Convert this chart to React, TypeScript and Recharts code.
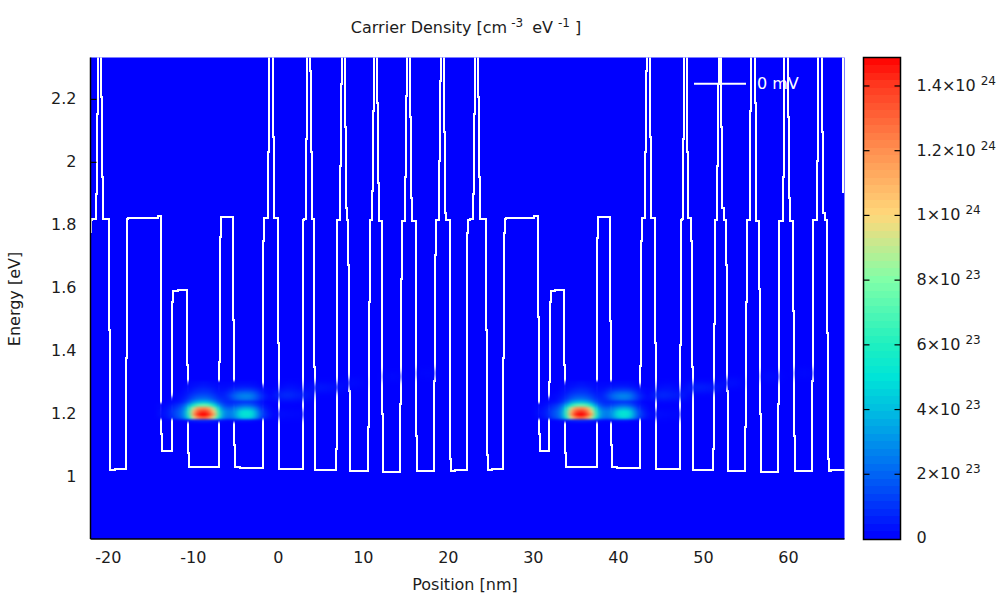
import React from 'react';
import { ComposedChart, XAxis, YAxis, Line, Scatter, CartesianGrid, Bar } from 'recharts';

const FONT = '"DejaVu Sans", Verdana, sans-serif';
const TEXT = '#1c1c1c';

// conduction/valence band edge: [position nm, energy eV], drawn as steps
const bandLevels: number[][] = [
  [-22.0,1.777],[-22.0,1.818],[-21.88,1.821],[-21.48,1.898],[-21.36,2.152],[-21.25,2.6],[-20.89,2.206],[-20.78,1.952],[-20.66,1.82],
  [-19.92,1.468],[-19.8,1.024],[-19.18,1.027],[-17.95,1.378],[-17.84,1.82],[-17.65,1.824],[-14.19,1.829],[-13.8,1.137],[-13.68,1.083],
  [-12.51,1.556],[-12.39,1.592],[-11.84,1.596],[-10.78,1.356],[-10.66,1.076],[-10.51,1.033],[-6.94,1.365],[-6.86,1.763],[-6.74,1.827],
  [-5.33,1.498],[-5.21,1.102],[-5.09,1.034],[-4.54,1.03],[-1.8,1.749],[-1.68,1.824],[-1.21,2.032],[-1.09,2.6],[-0.62,2.079],[-0.51,1.824],
  [-0.04,1.425],[0.08,1.027],[2.91,1.817],[3.02,1.821],[3.22,2.073],[3.34,2.6],[3.73,2.289],[3.85,2.032],[3.96,1.821],[4.24,1.349],[4.35,1.024],
  [6.75,1.089],[6.87,1.816],[7.26,1.99],[7.38,2.248],[7.49,2.6],[7.85,2.111],[7.96,1.854],[8.08,1.818],[8.2,1.673],[8.32,1.273],[8.44,1.02],
  [10.55,1.159],[10.67,1.556],[10.79,1.816],[11.02,1.908],[11.14,2.162],[11.26,2.6],[11.61,2.19],[11.73,1.933],[11.85,1.814],[12.2,1.2],[12.32,1.017],
  [14.32,1.232],[14.44,1.629],[14.55,1.815],[14.91,1.954],[15.02,2.21],[15.14,2.6],[15.49,2.143],[15.61,1.886],[15.73,1.815],[16.2,1.13],[16.32,1.02],
  [18.32,1.305],[18.44,1.705],[18.55,1.817],[18.91,2.003],[19.02,2.257],[19.14,2.6],[19.49,2.098],[19.61,1.84],[19.73,1.817],[20.2,1.057],[20.32,1.02],[20.79,1.024],
  [22.2,1.777],[22.32,1.817],[22.55,1.82],[22.91,1.898],[23.02,2.152],[23.14,2.6],[23.49,2.206],[23.61,1.952],[23.73,1.82],
  [24.44,1.467],[24.55,1.07],[24.67,1.023],[25.18,1.027],[26.44,1.378],[26.55,1.775],[26.67,1.82],[26.82,1.824],[30.08,1.829],[30.55,1.508],[30.67,1.137],[30.79,1.083],
  [31.85,1.302],[31.96,1.556],[32.08,1.592],[32.59,1.596],[33.61,1.356],[33.73,1.076],[33.85,1.033],[37.49,1.761],[37.61,1.827],
  [39.02,1.497],[39.14,1.102],[39.26,1.033],[39.88,1.03],[42.59,1.352],[42.67,1.749],[42.79,1.824],[43.14,2.032],[43.26,2.289],[43.38,2.6],[43.73,2.079],[43.85,1.824],
  [44.32,1.425],[44.44,1.026],[47.29,1.419],[47.38,1.816],[47.49,1.819],[47.61,2.073],[47.73,2.6],[48.08,2.032],[48.2,1.822],[48.55,1.749],[48.67,1.349],[48.79,1.023],
  [51.11,1.089],[51.22,1.486],[51.38,1.816],[51.61,1.99],[51.73,2.249],[51.85,2.6],[52.12,2.111],[52.24,1.854],[52.4,1.817],[52.64,1.673],[52.75,1.273],[52.87,1.02],
  [54.94,1.159],[55.06,1.556],[55.18,1.816],[55.49,2.162],[55.61,2.6],[56.08,2.19],[56.2,1.814],[56.55,1.597],[56.67,1.2],[56.79,1.017],
  [58.79,1.232],[58.91,1.815],[59.38,1.954],[59.49,2.6],[59.96,2.143],[60.08,1.886],[60.2,1.815],[60.55,1.527],[60.67,1.13],[60.79,1.02],
  [62.79,1.305],[62.91,1.817],[63.38,2.003],[63.49,2.6],[63.96,2.098],[64.08,1.84],[64.32,1.817],[64.55,1.457],[64.67,1.057],[64.79,1.02],[65.02,1.023],[66.7,1.023],
];
const bandEdgeRight: number[][] = [[66.48,1.903],[66.48,2.6]];

// density maps, values in units of 1e23 cm-3 eV-1
const heatPositionsA = [-14,-13.5,-13,-12.5,-12,-11.5,-11,-10.5,-10,-9.5,-9,-8.5,-8,-7.5,-7,-6.5,-6,-5.5,-5,-4.5,-4,-3.5,-3,-2.5,-2,-1.5,-1];
const heatPositionsB = [30.4,30.9,31.4,31.9,32.4,32.9,33.4,33.9,34.4,34.9,35.4,35.9,36.4,36.9,37.4,37.9,38.4,38.9,39.4,39.9,40.4,40.9,41.4,41.9,42.4,42.9,43.4];
const heatEnergies = [1.18,1.19,1.2,1.21,1.22,1.23,1.24,1.25,1.26,1.27,1.28,1.29,1.3];
const heatRows: number[][] = [
  [0,0,0,0,0,.1,.2,.3,.5,.6,.7,.7,.6,.5,.3,.2,.1,.1,.2,.3,.3,.3,.2,.1,0,0,0],
  [.1,.2,.4,.8,1.3,1.8,2.8,5.5,9.5,12,13,13,11.5,9,5.5,3,2.3,2.3,3,4,4.6,4.6,4,2.7,1.4,.7,.3],
  [.2,.3,.5,1,1.5,2,3.2,6.5,11,14,14.9,14.8,13.5,11,6.5,3.4,2.6,2.6,3.4,4.7,5.2,5.2,4.7,3.2,1.7,.9,.4],
  [.2,.3,.5,1,1.5,2,3.2,6.5,10.5,13,14,14,12.5,10,6,3.4,2.6,2.6,3.2,4.5,5,5,4.5,3,1.6,.8,.3],
  [.1,.2,.4,.8,1.2,1.7,2.8,5.5,9,11.5,12,12,11,8.5,4.8,2.6,2,2,2.6,3.2,3.6,3.6,3.2,2.2,1.1,.5,.2],
  [.1,.1,.2,.5,.8,1.2,2,3.6,5.6,7,7.5,7.5,6.8,5,3,1.7,1.2,1.2,1.5,1.8,2,2,1.7,1.2,.6,.3,.1],
  [0,0,.1,.2,.3,.5,1,1.9,3,3.7,4,4,3.5,2.7,1.6,1,.8,.8,.9,1,1.1,1.1,1,.7,.4,.1,0],
  [0,0,0,.1,.1,.3,.6,1.1,1.7,2.1,2.3,2.3,2,1.5,1,.8,.8,1.3,1.9,2.3,2.5,2.5,2.2,1.6,.9,.4,.2],
  [0,0,0,0,.1,.2,.4,.8,1.2,1.5,1.6,1.6,1.4,1.1,.7,.6,.9,1.5,2.1,2.5,2.7,2.7,2.4,1.7,1,.5,.2],
  [0,0,0,0,0,.1,.3,.5,.8,1,1.1,1.1,1,.7,.5,.5,.7,1.1,1.6,1.9,2,2,1.8,1.3,.7,.3,.1],
  [0,0,0,0,0,0,.2,.3,.5,.7,.8,.8,.7,.5,.3,.3,.4,.7,.9,1,1.1,1.1,1,.7,.4,.2,0],
  [0,0,0,0,0,0,.1,.2,.3,.4,.5,.5,.4,.3,.2,.2,.2,.3,.4,.5,.5,.5,.4,.3,.1,0,0],
  [0,0,0,0,0,0,0,.1,.2,.2,.3,.3,.2,.2,.1,.1,.1,.1,.2,.2,.2,.2,.2,.1,0,0,0],
];
// faint maxima further along the structure: [position nm, energy eV, value]
const faintLobes: number[][] = [
  [0,1.26,.6],[1.4,1.26,1],[2.8,1.26,.6],[1.4,1.285,.3],[0.5,1.2,.25],[2.2,1.2,.15],
  [4.5,1.285,.3],[5.5,1.285,.5],[6.6,1.285,.3],[8.8,1.3,.2],[13.5,1.32,.15],[17.5,1.33,.12],
  [44.5,1.26,.6],[45.7,1.26,.9],[47,1.26,.6],[45.7,1.285,.3],[44.8,1.2,.25],[46.5,1.2,.15],
  [48.9,1.285,.5],[49.9,1.285,.7],[51,1.285,.5],[53.3,1.3,.3],[58,1.32,.2],[61.9,1.33,.15],
];

const xTicks = [-20,-10,0,10,20,30,40,50,60];
const yTicks = [1,1.2,1.4,1.6,1.8,2,2.2];
const xDomain = [-22.1,66.6];
const yDomain = [0.804,2.333];

const barMax = 14.88;
const barTicks = [0,2,4,6,8,10,12,14];
const barLabels: Record<number,[string,string]> = {
  0:['0',''],2:['2×10','23'],4:['4×10','23'],6:['6×10','23'],8:['8×10','23'],
  10:['1×10','24'],12:['1.2×10','24'],14:['1.4×10','24'],
};
// colour map: [value, r, g, b]
const colorStops: number[][] = [
  [0,0,0,255],[2,0,100,245],[4,0,190,225],[5,0,228,216],[6,30,240,192],[8,128,255,168],[10,255,216,122],[12,255,144,80],[14,255,58,32],[14.88,255,0,0],
];
const STEPS = 64;

function colorOf(v: number) {
  const q = Math.min(STEPS - 1, Math.floor((v / barMax) * STEPS)) + 0.5;
  const val = (q / STEPS) * barMax;
  let i = 0;
  while (i < colorStops.length - 2 && val > colorStops[i + 1][0]) i++;
  const a = colorStops[i], b = colorStops[i + 1];
  const t = (val - a[0]) / (b[0] - a[0]);
  const c = [1, 2, 3].map((k) => Math.round(a[k] + (b[k] - a[k]) * t));
  return `rgb(${c[0]},${c[1]},${c[2]})`;
}
// density cells are not binned: the map itself is smooth
function smoothColorOf(v: number) {
  let i = 0;
  while (i < colorStops.length - 2 && v > colorStops[i + 1][0]) i++;
  const a = colorStops[i], b = colorStops[i + 1];
  const t = (v - a[0]) / (b[0] - a[0]);
  const c = [1, 2, 3].map((k) => Math.round(a[k] + (b[k] - a[k]) * t));
  return `rgb(${c[0]},${c[1]},${c[2]})`;
}

const bandData = bandLevels.map(([x, e]) => ({ x, e }));
const edgeData = bandEdgeRight.map(([x, e]) => ({ x, e }));
const cells = (xs: number[]) =>
  heatRows.flatMap((row, r) => row.map((v, c) => ({ x: xs[c], e: heatEnergies[r], v })));
const cellsA = cells(heatPositionsA);
const cellsB = cells(heatPositionsB);
const faintData = faintLobes.map(([x, e, v]) => ({ x, e, v }));
const barSteps = Array.from({ length: STEPS }, (_, i) => i);
const barRow: Record<string, number | string> = { name: 'scale' };
barSteps.forEach((i) => { barRow[`s${i}`] = barMax / STEPS; });
const barData = [barRow];

const CoreCell = (p: any) => (
  <rect x={p.cx - 2.4} y={p.cy - 1.8} width={4.8} height={3.6} fill={smoothColorOf(p.payload.v)} fillOpacity={p.payload.v > 0 ? 1 : 0} />
);
const FaintCell = (p: any) => (
  <rect x={p.cx - 9} y={p.cy - 4} width={18} height={8} fill={smoothColorOf(p.payload.v)} />
);

const TICK = 6;
const tickStyle = { fontFamily: FONT, fontSize: 16, fill: TEXT };
const supStyle = { fontSize: 12 };
const BottomTick = (p: any) => (
  <text x={p.x} y={p.y + 24} textAnchor="middle" {...tickStyle}>{p.payload.value}</text>
);
const TopTick = (p: any) => (
  <line x1={p.x} x2={p.x} y1={p.y} y2={p.y + TICK} stroke="#000" strokeWidth={1.2} />
);
const LeftTick = (p: any) => (
  <g>
    {p.payload.value >= 2 && <line x1={p.x} x2={p.x + TICK} y1={p.y} y2={p.y} stroke="#000" strokeWidth={1.2} />}
    <text x={p.x - 14} y={p.y + 5} textAnchor="end" {...tickStyle}>{p.payload.value}</text>
  </g>
);
const RightTick = (p: any) =>
  p.payload.value >= 2 ? <line x1={p.x} x2={p.x - TICK} y1={p.y} y2={p.y} stroke="#000" strokeWidth={1.2} /> : <g />;
const BarTick = (p: any) => {
  const [m, e] = barLabels[p.payload.value];
  return (
    <g>
      {p.payload.value > 0 && (
        <>
          <line x1={p.x} x2={p.x - TICK} y1={p.y} y2={p.y} stroke="#000" strokeWidth={1.2} />
          <line x1={p.x - 37} x2={p.x - 37 + TICK} y1={p.y} y2={p.y} stroke="#000" strokeWidth={1.2} />
        </>
      )}
      <text x={p.x + 16} y={p.y + (p.payload.value > 0 ? 5 : 4)} {...tickStyle}>
        {m}
        {e && <tspan dx={5} dy={-6} {...supStyle}>{e}</tspan>}
      </text>
    </g>
  );
};

const W = 1000, H = 600;
const axisLine = { stroke: '#000', strokeWidth: 1.5 };
const barMargin = { top: 57.5, right: 0, bottom: 61, left: 863.5 };

export default function App() {
  return (
    <div style={{ position: 'absolute', left: 0, top: 0, width: W, height: H, background: '#fff' }}>
      <style>{`.heat-core{filter:url(#heatBlur)} .heat-faint{filter:url(#faintBlur)} .recharts-line-curve{shape-rendering:crispEdges} .recharts-bar-rectangle path{shape-rendering:crispEdges}`}</style>
      <svg width={0} height={0} style={{ position: 'absolute' }}>
        <defs>
          <filter id="heatBlur" x="-10%" y="-20%" width="120%" height="140%" colorInterpolationFilters="sRGB">
            <feGaussianBlur stdDeviation="2 0.9" />
          </filter>
          <filter id="faintBlur" x="-10%" y="-30%" width="120%" height="160%" colorInterpolationFilters="sRGB">
            <feGaussianBlur stdDeviation="5 3" />
          </filter>
        </defs>
      </svg>

      <div style={{ position: 'absolute', left: 0, top: 0 }}>
        <ComposedChart width={W} height={H} margin={{ top: 57.5, right: 155.5, bottom: 0, left: 0 }}>
          <CartesianGrid fill="#0000ff" stroke="none" horizontal={false} vertical={false} />
          <XAxis dataKey="x" type="number" domain={xDomain} ticks={xTicks} allowDataOverflow height={61}
            tickLine={false} tickSize={0} tickMargin={0} axisLine={axisLine} tick={BottomTick} interval={0} />
          <YAxis dataKey="e" type="number" domain={yDomain} ticks={yTicks} allowDataOverflow width={90.5}
            tickLine={false} tickSize={0} tickMargin={0} axisLine={axisLine} tick={LeftTick} interval={0} />
          <XAxis xAxisId="top" orientation="top" type="number" domain={xDomain} ticks={xTicks} allowDataOverflow height={0}
            tickLine={false} tickSize={0} tickMargin={0} axisLine={axisLine} tick={TopTick} interval={0} />
          <YAxis yAxisId="right" orientation="right" type="number" domain={yDomain} ticks={yTicks} allowDataOverflow width={0}
            tickLine={false} tickSize={0} tickMargin={0} axisLine={axisLine} tick={RightTick} interval={0} />
          <Scatter className="heat-faint" data={faintData} shape={FaintCell} isAnimationActive={false} />
          <Scatter className="heat-core" data={cellsA} shape={CoreCell} isAnimationActive={false} />
          <Scatter className="heat-core" data={cellsB} shape={CoreCell} isAnimationActive={false} />
          <Line data={bandData} dataKey="e" name="0 mV" type="stepAfter" stroke="#fff" strokeWidth={2} dot={false} isAnimationActive={false} />
          <Line data={edgeData} dataKey="e" legendType="none" type="linear" stroke="#fff" strokeWidth={2} dot={false} isAnimationActive={false} />
        </ComposedChart>
      </div>

      <div style={{ position: 'absolute', left: 0, top: 0 }}>
        <ComposedChart width={W} height={H} data={barData} barCategoryGap={0} margin={barMargin}>
          <XAxis hide dataKey="name" type="category" />
          <YAxis orientation="right" type="number" domain={[0, barMax]} allowDataOverflow width={99.5}
            tickLine={false} axisLine={false} tick={false} />
          {barSteps.map((i) => (
            <Bar key={i} dataKey={`s${i}`} stackId="scale" fill={colorOf(((i + 0.5) / STEPS) * barMax)} isAnimationActive={false} />
          ))}
        </ComposedChart>
      </div>

      <div style={{ position: 'absolute', left: 0, top: 0 }}>
        <ComposedChart width={W} height={H} data={barData} barCategoryGap={0} margin={barMargin}>
          <XAxis hide dataKey="name" type="category" />
          <YAxis orientation="right" type="number" domain={[0, barMax]} ticks={barTicks} allowDataOverflow width={99.5}
            tickLine={false} tickSize={0} tickMargin={0} axisLine={false} tick={BarTick} interval={0} />
          <Bar dataKey="s0" fill="none" isAnimationActive={false} />
        </ComposedChart>
      </div>

      <svg width={W} height={H} style={{ position: 'absolute', left: 0, top: 0, pointerEvents: 'none' }}>
        <rect x={863.5} y={57.5} width={37} height={482} fill="none" stroke="#000" strokeWidth={1.5} />
        <text x={466} y={33} textAnchor="middle" {...tickStyle}>
          Carrier Density [cm<tspan dx={4} dy={-6} {...supStyle}>-3</tspan><tspan dx={9} dy={6}>eV</tspan><tspan dx={5} dy={-6} {...supStyle}>-1</tspan><tspan dx={5} dy={6}>]</tspan>
        </text>
        <text x={465} y={590} textAnchor="middle" {...tickStyle}>Position [nm]</text>
        <text transform="translate(20,299) rotate(-90)" textAnchor="middle" {...tickStyle}>Energy [eV]</text>
        <line x1={694} x2={746} y1={83.7} y2={83.7} stroke="#fff" strokeWidth={2} />
        <text x={757} y={89} {...tickStyle} fill="#fff">0 mV</text>
      </svg>
    </div>
  );
}
